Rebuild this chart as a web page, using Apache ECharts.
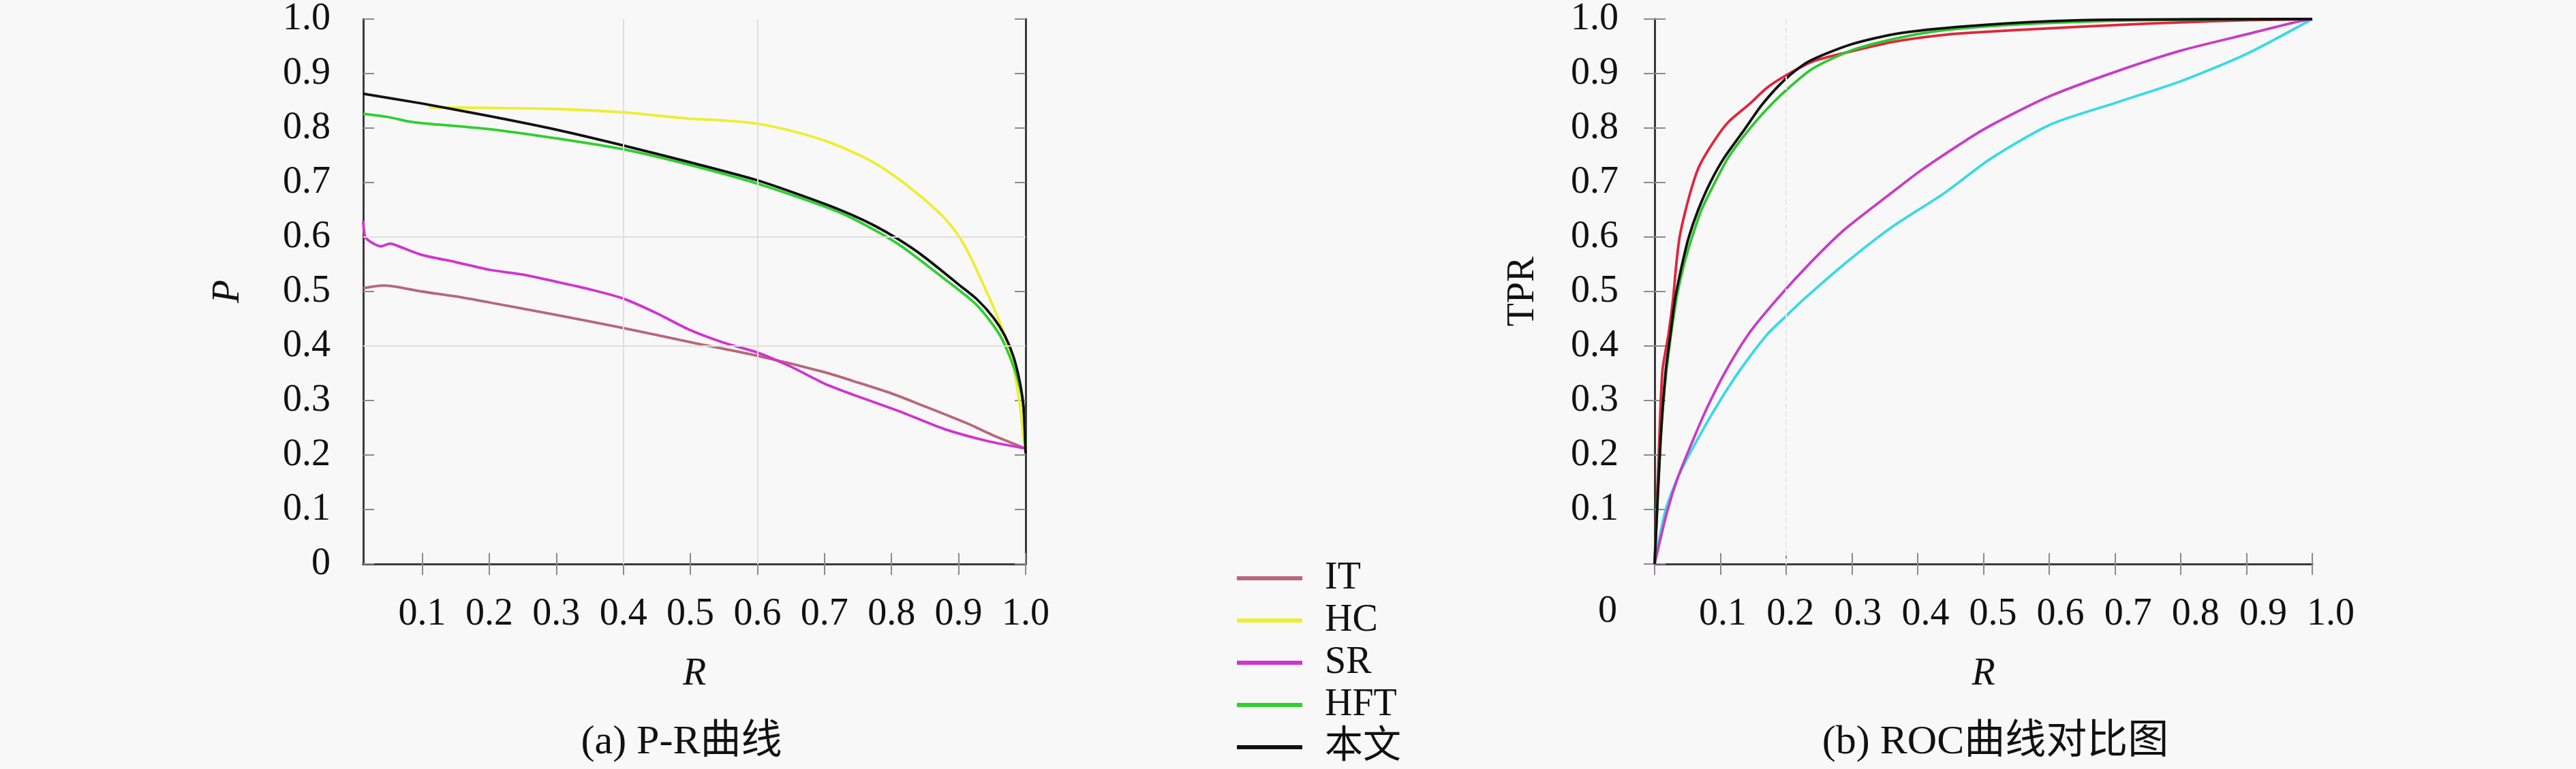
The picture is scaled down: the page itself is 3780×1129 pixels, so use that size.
<!DOCTYPE html>
<html>
<head>
<meta charset="utf-8">
<script src="https://cdn.jsdelivr.net/npm/echarts@6/dist/echarts.min.js"></script>
<style>
  html, body { margin: 0; padding: 0; background: #f8f8f8; }
  #chart { width: 3780px; height: 1129px; }
</style>
</head>
<body>
<div id="chart"></div>
<script>
// ---- data ----
const seriesNames = ['IT', 'HC', 'SR', 'HFT', '本文'];
const ticks = [0.1, 0.2, 0.3, 0.4, 0.5, 0.6, 0.7, 0.8, 0.9, 1.0];

// (a) P-R curves: [R, P]
const prIT = [[0.012,0.506],[0.043,0.511],[0.06,0.509],[0.1,0.5],[0.15,0.491],[0.2,0.48],[0.3,0.457],[0.4,0.433],[0.5,0.407],[0.6,0.382],[0.7,0.352],[0.742,0.336],[0.8,0.313],[0.844,0.292],[0.911,0.259],[0.95,0.237],[1.0,0.212]];
const prHC = [[0.11,0.838],[0.2,0.837],[0.3,0.835],[0.4,0.829],[0.45,0.823],[0.5,0.817],[0.55,0.814],[0.6,0.808],[0.65,0.795],[0.7,0.777],[0.742,0.756],[0.776,0.735],[0.81,0.707],[0.844,0.674],[0.878,0.636],[0.9,0.602],[0.918,0.563],[0.938,0.51],[0.955,0.463],[0.969,0.419],[0.979,0.38],[0.985,0.341],[0.992,0.286],[0.997,0.231],[1.0,0.209]];
const prSR = [[0.012,0.63],[0.015,0.6],[0.026,0.589],[0.039,0.583],[0.052,0.588],[0.065,0.583],[0.1,0.567],[0.15,0.554],[0.2,0.54],[0.25,0.531],[0.3,0.518],[0.35,0.504],[0.4,0.487],[0.45,0.46],[0.5,0.429],[0.55,0.406],[0.6,0.388],[0.65,0.362],[0.7,0.331],[0.742,0.311],[0.81,0.281],[0.878,0.248],[0.945,0.225],[1.0,0.212]];
const prHFT = [[0.012,0.826],[0.05,0.82],[0.08,0.812],[0.1,0.809],[0.2,0.798],[0.3,0.781],[0.4,0.761],[0.5,0.732],[0.6,0.698],[0.7,0.656],[0.742,0.634],[0.81,0.587],[0.878,0.524],[0.928,0.474],[0.962,0.419],[0.985,0.352],[0.996,0.297],[1.0,0.214]];
const prOurs = [[0.012,0.863],[0.1,0.845],[0.2,0.822],[0.3,0.797],[0.4,0.768],[0.5,0.737],[0.6,0.704],[0.7,0.661],[0.742,0.64],[0.776,0.62],[0.81,0.596],[0.844,0.568],[0.878,0.535],[0.9,0.513],[0.928,0.485],[0.952,0.452],[0.969,0.419],[0.982,0.38],[0.992,0.33],[0.997,0.286],[1.0,0.203]];

// (b) ROC curves: [FPR, TPR]
const rocIT = [[0,0],[0.007,0.226],[0.012,0.356],[0.021,0.421],[0.028,0.486],[0.033,0.551],[0.038,0.6],[0.047,0.649],[0.059,0.701],[0.069,0.733],[0.092,0.779],[0.112,0.811],[0.144,0.844],[0.171,0.874],[0.199,0.896],[0.24,0.922],[0.3,0.941],[0.362,0.958],[0.441,0.971],[0.51,0.977],[0.6,0.983],[0.7,0.989],[0.8,0.994],[0.9,0.998],[1,1]];
const rocHC = [[0,0],[0.016,0.096],[0.036,0.161],[0.064,0.226],[0.095,0.291],[0.13,0.356],[0.171,0.421],[0.199,0.454],[0.227,0.486],[0.289,0.551],[0.358,0.616],[0.441,0.681],[0.51,0.743],[0.601,0.806],[0.7,0.846],[0.8,0.886],[0.9,0.936],[1,1]];
const rocSR = [[0,0],[0.019,0.096],[0.036,0.161],[0.061,0.235],[0.081,0.29],[0.109,0.356],[0.144,0.424],[0.189,0.49],[0.237,0.553],[0.289,0.614],[0.358,0.679],[0.407,0.724],[0.469,0.774],[0.51,0.804],[0.6,0.858],[0.7,0.903],[0.8,0.942],[0.9,0.972],[0.97,0.993],[1,1]];
const rocHFT = [[0,0],[0.009,0.226],[0.018,0.356],[0.033,0.486],[0.045,0.551],[0.057,0.6],[0.071,0.649],[0.092,0.701],[0.112,0.746],[0.144,0.798],[0.178,0.844],[0.206,0.876],[0.24,0.909],[0.296,0.941],[0.355,0.961],[0.424,0.977],[0.51,0.987],[0.6,0.993],[0.7,0.997],[0.8,0.999],[1,1]];
const rocOurs = [[0,0],[0.009,0.226],[0.017,0.356],[0.024,0.421],[0.031,0.486],[0.042,0.551],[0.052,0.6],[0.066,0.649],[0.085,0.701],[0.106,0.746],[0.137,0.798],[0.164,0.844],[0.199,0.89],[0.234,0.922],[0.3,0.954],[0.372,0.974],[0.476,0.987],[0.6,0.996],[0.7,0.999],[1,1]];

// faint grid lines visible in the figure
const prGridX = [0.4, 0.6];
const prGridY = [0.4, 0.6];
const rocGridX = [0.2];

const captions = ['(a) P-R曲线', '(b) ROC曲线对比图'];

const prColors = ['#b8677a', '#eeee30', '#d034d0', '#2ed02e', '#111111'];
const rocColors = ['#e2243c', '#38dae6', '#c83cc8', '#2ec82e', '#111111'];

const FONT = "'Liberation Serif', 'Noto Sans CJK SC', serif";
const FS = 56;
const fmt = v => v === 0 ? '0' : v.toFixed(1);

const chart = echarts.init(document.getElementById('chart'), null, { renderer: 'canvas' });

const borderLine = { show: true, lineStyle: { color: '#3a3a3a', width: 3 } };
const innerTick = { show: true, inside: true, length: 16, lineStyle: { color: '#8a8a8a', width: 2 } };
const labelStyle = { color: '#111', fontFamily: FONT, fontSize: FS };

function lineSeries(name, data, color, xi, yi) {
    return {
        name: name,
        type: 'line',
        xAxisIndex: xi,
        yAxisIndex: yi,
        data: data,
        showSymbol: false,
        symbol: 'none',
        smooth: 0.25,
        lineStyle: { color: color, width: 3.8 },
        itemStyle: { color: color },
        animation: false
    };
}

function gridSeries(xi, yi, xs, ys, dashed) {
    return {
        type: 'line',
        xAxisIndex: xi,
        yAxisIndex: yi,
        data: [],
        silent: true,
        markLine: {
            silent: true,
            symbol: 'none',
            label: { show: false },
            lineStyle: { color: dashed ? '#e6e6e6' : '#dedede', width: 2, type: dashed ? 'dashed' : 'solid' },
            data: xs.map(v => ({ xAxis: v })).concat(ys.map(v => ({ yAxis: v })))
        }
    };
}

const prData = [prIT, prHC, prSR, prHFT, prOurs];
const rocData = [rocIT, rocHC, rocSR, rocHFT, rocOurs];

const series = [gridSeries(0, 0, prGridX, prGridY, false), gridSeries(2, 2, rocGridX, [], true)];
seriesNames.forEach((n, i) => series.push(lineSeries(n, prData[i], prColors[i], 0, 0)));
seriesNames.forEach((n, i) => series.push(lineSeries(n, rocData[i], rocColors[i], 2, 2)));

const nameStyle = { fontFamily: FONT, fontSize: FS, color: '#111' };

const option = {
    backgroundColor: '#f8f8f8',
    animation: false,
    textStyle: { fontFamily: FONT },
    grid: [
        { left: 533, top: 21, width: 972, height: 807 },
        { left: 2428, top: 24, width: 965, height: 804 },
        // label row of the ROC plot (its labels sit a little wider than the ticks)
        { left: 2429, top: 24, width: 991, height: 804 }
    ],
    xAxis: [
        {   // 0: P-R bottom
            gridIndex: 0, type: 'value', position: 'bottom', min: 0.012, max: 1,
            axisLine: borderLine,
            axisTick: Object.assign({ customValues: ticks }, innerTick),
            axisLabel: Object.assign({ customValues: ticks, margin: 46, formatter: fmt }, labelStyle),
            splitLine: { show: false },
            name: 'R', nameLocation: 'middle', nameGap: 134,
            nameTextStyle: Object.assign({ fontStyle: 'italic' }, nameStyle)
        },
        {   // 1: P-R top border
            gridIndex: 0, type: 'value', position: 'top', min: 0.012, max: 1,
            axisLine: borderLine,
            axisTick: Object.assign({ customValues: ticks }, innerTick),
            axisLabel: { show: false },
            splitLine: { show: false }
        },
        {   // 2: ROC bottom
            gridIndex: 1, type: 'value', position: 'bottom', min: 0, max: 1, interval: 0.1,
            axisLine: borderLine, axisTick: innerTick,
            axisLabel: { show: false },
            splitLine: { show: false },
            name: 'R', nameLocation: 'middle', nameGap: 134,
            nameTextStyle: Object.assign({ fontStyle: 'italic' }, nameStyle)
        },
        {   // 3: ROC top border
            gridIndex: 1, type: 'value', position: 'top', min: 0, max: 1, interval: 0.1,
            axisLine: borderLine, axisTick: innerTick,
            axisLabel: { show: false },
            splitLine: { show: false }
        },
        {   // 4: ROC tick labels
            gridIndex: 2, type: 'value', position: 'bottom', min: 0, max: 1, interval: 0.1,
            axisLine: { show: false }, axisTick: { show: false },
            axisLabel: Object.assign({ margin: 46, formatter: v => v === 0 ? '' : v.toFixed(1) }, labelStyle),
            splitLine: { show: false }
        }
    ],
    yAxis: [
        {   // 0: P-R left
            gridIndex: 0, type: 'value', position: 'left', min: 0, max: 1, interval: 0.1,
            axisLine: borderLine, axisTick: innerTick,
            axisLabel: Object.assign({ margin: 48, formatter: fmt }, labelStyle),
            splitLine: { show: false },
            name: 'P', nameLocation: 'middle', nameGap: 170, nameRotate: 90,
            nameTextStyle: Object.assign({ fontStyle: 'italic' }, nameStyle)
        },
        {   // 1: P-R right border
            gridIndex: 0, type: 'value', position: 'right', min: 0, max: 1, interval: 0.1,
            axisLine: borderLine, axisTick: innerTick,
            axisLabel: { show: false }, splitLine: { show: false }
        },
        {   // 2: ROC left
            gridIndex: 1, type: 'value', position: 'left', min: 0, max: 1, interval: 0.1,
            axisLine: borderLine, axisTick: innerTick,
            axisLabel: Object.assign({ margin: 53, formatter: v => v === 0 ? '' : v.toFixed(1) }, labelStyle),
            splitLine: { show: false },
            name: 'TPR', nameLocation: 'middle', nameGap: 165, nameRotate: 90,
            nameTextStyle: nameStyle
        },
        {   // 3: ROC right border
            gridIndex: 1, type: 'value', position: 'right', min: 0, max: 1, interval: 0.1,
            axisLine: borderLine, axisTick: innerTick,
            axisLabel: { show: false }, splitLine: { show: false }
        },
        {   // 4: helper for label grid
            gridIndex: 2, type: 'value', min: 0, max: 1, show: false
        }
    ],
    legend: {
        data: seriesNames,
        orient: 'vertical',
        left: 1815,
        top: 820,
        padding: 0,
        icon: 'rect',
        itemWidth: 96,
        itemHeight: 6,
        itemGap: 4,
        textStyle: { fontFamily: FONT, fontSize: FS, lineHeight: 58, color: '#111', padding: [0, 0, 0, 28] }
    },
    graphic: [
        { type: 'text', left: 2345, top: 870, style: { text: '0', font: FS + 'px ' + FONT, fill: '#111' } },
        { type: 'text', x: 1000, y: 1090, style: { text: captions[0], font: '60px ' + FONT, fill: '#111', textAlign: 'center', textVerticalAlign: 'middle' } },
        { type: 'text', x: 2928, y: 1090, style: { text: captions[1], font: '60px ' + FONT, fill: '#111', textAlign: 'center', textVerticalAlign: 'middle' } }
    ],
    series: series
};

chart.setOption(option);
</script>
</body>
</html>
